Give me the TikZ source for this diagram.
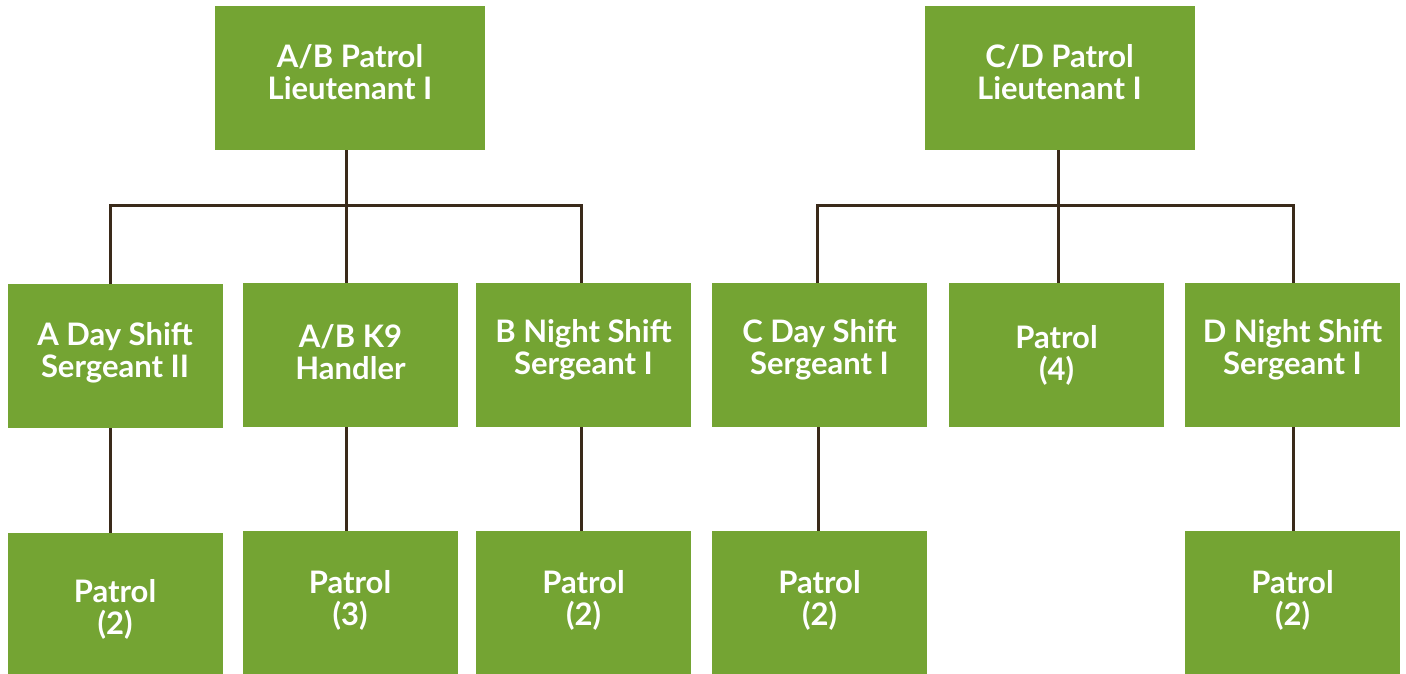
\documentclass[tikz,border=0pt]{standalone}
\usepackage{fontspec}
\setmainfont{Lato}[UprightFont=* Bold]
\definecolor{boxgreen}{HTML}{74A433}
\definecolor{linebrown}{HTML}{3A2A1A}
\begin{document}
\begin{tikzpicture}[x=1pt,y=-1pt,
  box/.style={fill=boxgreen, draw=none, rectangle, inner sep=0pt,
    minimum width=215pt, minimum height=144pt},
  topbox/.style={box, minimum width=270pt},
  txt/.style={text=white, align=center, font=\fontsize{31}{32}\selectfont, inner sep=0pt},
  conn/.style={draw=linebrown, line width=3pt}]
\useasboundingbox (0,0) rectangle (1406,674);
% top
\node[topbox, label={[txt,yshift=6pt]center:A/B Patrol\\Lieutenant I}] (ab) at (350,78) {};
\node[topbox, label={[txt,yshift=6pt]center:C/D Patrol\\Lieutenant I}] (cd) at (1059.5,78) {};
% middle
\node[box, label={[txt,yshift=3pt]center:A Day Shift\\Sergeant II}] (aday) at (115,356) {};
\node[box, label={[txt,yshift=3pt]center:A/B K9\\Handler}] (k9) at (350.5,355) {};
\node[box, label={[txt,yshift=5pt]center:B Night Shift\\Sergeant I}] (bnight) at (583.5,355) {};
\node[box, label={[txt,yshift=5pt]center:C Day Shift\\Sergeant I}] (cday) at (819.5,355) {};
\node[box, label={[txt,yshift=0pt]center:Patrol\\(4)}] (p4) at (1056.5,355) {};
\node[box, label={[txt,yshift=5pt]center:D Night Shift\\Sergeant I}] (dnight) at (1292.5,355) {};
% bottom
\node[box, minimum height=141pt, label={[txt,yshift=-6pt]center:Patrol\\(2)}] (pa) at (115,603.5) {};
\node[box, minimum height=143pt, label={[txt,yshift=2pt]center:Patrol\\(3)}] (pk9) at (350,602.5) {};
\node[box, minimum height=143pt, label={[txt,yshift=2pt]center:Patrol\\(2)}] (pb) at (583.5,602.5) {};
\node[box, minimum height=143pt, label={[txt,yshift=2pt]center:Patrol\\(2)}] (pc) at (819.5,602.5) {};
\node[box, minimum height=143pt, label={[txt,yshift=2pt]center:Patrol\\(2)}] (pd) at (1292.5,602.5) {};
% connectors
\coordinate (abj) at (346,205);
\coordinate (cdj) at (1058,205);
\draw[conn] (ab.south -| abj) -- (abj);
\draw[conn] (aday.north -| 110,0) |- (abj) -| (bnight.north -| 581,0);
\draw[conn] (abj) -- (k9.north -| abj);
\draw[conn] (cd.south -| cdj) -- (cdj);
\draw[conn] (cday.north -| 817,0) |- (cdj) -| (dnight.north -| 1293,0);
\draw[conn] (cdj) -- (p4.north -| cdj);
\draw[conn] (aday.south -| 110,0) -- (pa.north -| 110,0);
\draw[conn] (k9.south -| 346,0) -- (pk9.north -| 346,0);
\draw[conn] (bnight.south -| 581,0) -- (pb.north -| 581,0);
\draw[conn] (cday.south -| 818,0) -- (pc.north -| 818,0);
\draw[conn] (dnight.south -| 1293,0) -- (pd.north -| 1293,0);
\end{tikzpicture}
\end{document}
